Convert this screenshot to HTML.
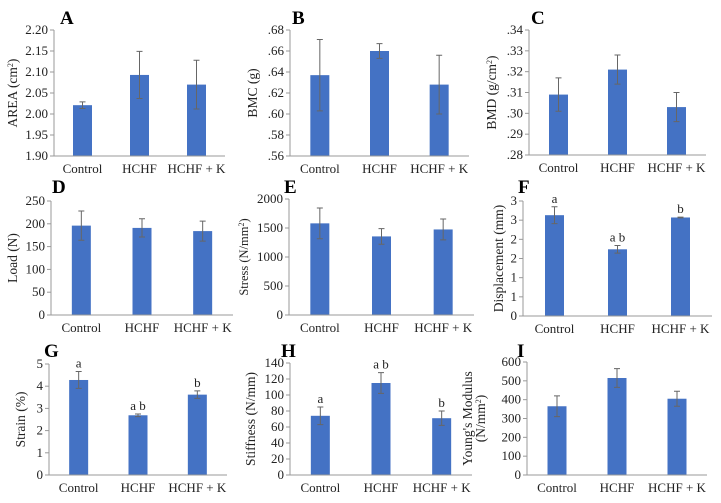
<!DOCTYPE html>
<html><head><meta charset="utf-8"><style>
body{margin:0;background:#fff}
svg{display:block}
svg text{font-family:"Liberation Serif","DejaVu Serif",serif}
</style></head><body>
<svg id="c" width="721" height="503" xmlns="http://www.w3.org/2000/svg" font-family="Liberation Serif, serif"></svg>
<script>
const categories=["Control","HCHF","HCHF + K"];
const valsA=[2.021,2.093,2.070], errA=[0.008,0.056,0.058];
const valsB=[0.637,0.660,0.628], errB=[0.034,0.007,0.028];
const valsC=[0.309,0.321,0.303], errC=[0.008,0.007,0.007];
const valsD=[196,191,184], errD=[32,20,22];
const valsE=[1580,1355,1475], errE=[265,135,180];
const valsF=[2.63,1.74,2.57], errF=[0.22,0.1,0.01];
const valsG=[4.28,2.69,3.62], errG=[0.38,0.06,0.17];
const valsH=[74,115,71], errH=[11,13,9];
const valsI=[365,515,405], errI=[55,50,40];
const ticksA=["1.90","1.95","2.00","2.05","2.10","2.15","2.20"];
const ticksB=[".56",".58",".60",".62",".64",".66",".68"];
const ticksC=[".28",".29",".30",".31",".32",".33",".34"];
const ticksD=["0","50","100","150","200","250"];
const ticksE=["0","500","1000","1500","2000"];
const ticksF=["0","1","1","2","2","3","3"];
const ticksG=["0","1","2","3","4","5"];
const ticksH=["0","20","40","60","80","100","120","140"];
const ticksI=["0","100","200","300","400","500","600"];
const sigF=["a","a b","b"], sigG=["a","a b","b"], sigH=["a","a b","b"];
const NS="http://www.w3.org/2000/svg";
const svg=document.getElementById('c');
const FF='Liberation Serif, DejaVu Serif, serif';
function mk(t,a,p){const e=document.createElementNS(NS,t);for(const k in a)e.setAttribute(k,a[k]);if(t==='text')e.setAttribute('font-family',FF);(p||svg).appendChild(e);return e;}
const panels=[
{id:'a',letter:'A',L:54,R:225,T:30,B:156,min:1.90,max:2.20,ticks:ticksA,vals:valsA,err:errA,title:['AREA (cm','2',')'],tx:17,lx:60,ly:24},
{id:'b',letter:'B',L:290,R:469,T:30,B:156,min:0.56,max:0.68,ticks:ticksB,vals:valsB,err:errB,title:['BMC (g)'],tx:257,lx:292,ly:24},
{id:'c',letter:'C',L:529,R:706,T:30,B:155,min:0.28,max:0.34,ticks:ticksC,vals:valsC,err:errC,title:['BMD (g/cm','2',')'],tx:496,lx:531,ly:24},
{id:'d',letter:'D',L:51,R:233,T:201,B:315,min:0,max:250,ticks:ticksD,vals:valsD,err:errD,title:['Load (N)'],tx:17,lx:52,ly:193},
{id:'e',letter:'E',L:289,R:474,T:199,B:315,min:0,max:2000,ticks:ticksE,vals:valsE,err:errE,title:['Stress (N/mm','2',')'],tx:248,lx:284,ly:193,small:true},
{id:'f',letter:'F',L:523,R:712,T:201,B:316,min:0,max:3,ticks:ticksF,vals:valsF,err:errF,title:['Displacement (mm)'],tx:503,lx:518,ly:193,sig:sigF},
{id:'g',letter:'G',L:49,R:227,T:364,B:475,min:0,max:5,ticks:ticksG,vals:valsG,err:errG,title:['Strain (%)'],tx:25,lx:44,ly:357,sig:sigG},
{id:'h',letter:'H',L:290,R:472,T:363,B:475,min:0,max:140,ticks:ticksH,vals:valsH,err:errH,title:['Stiffness (N/mm)'],tx:255,lx:281,ly:357,sig:sigH},
{id:'i',letter:'I',L:527,R:707,T:362,B:475,min:0,max:600,ticks:ticksI,vals:valsI,err:errI,title:["Young's Modulus"],title2:['(N/mm','2',')'],tx:472,lx:517,ly:357}
];
panels.forEach(p=>{
 const g=mk('g',{});
 
 
 const y=v=>p.B-(v-p.min)/(p.max-p.min)*(p.B-p.T);
 const step=(p.R-p.L)/3;
 const x=i=>p.L+step*(i+0.5);
 const lt=mk('text',{x:p.lx,y:p.ly,'font-size':19,'font-weight':'bold'},g);lt.textContent=p.letter;
 
 
 const n=p.ticks.length;
 p.ticks.forEach((t,k)=>{
  const v=p.min+(p.max-p.min)*k/(n-1);
  const yy=y(v);
  mk('line',{x1:p.L-4,x2:p.L,y1:yy,y2:yy,stroke:'#999','stroke-width':1},g);
  const tt=mk('text',{x:p.L-6,y:yy+4,'font-size':13,'text-anchor':'end',fill:'#222'},g);tt.textContent=t;
  
  
 });
 p.vals.forEach((v,i)=>{
  const cx=x(i),bw=19;
  const r=mk('rect',{x:cx-bw/2,y:y(v),width:bw,height:p.B-y(v),fill:'#4472C4'},g);
  
  
  const e=p.err[i];
  const eb=mk('path',{d:`M${cx},${y(v+e)}V${y(v-e)}M${cx-3},${y(v+e)}H${cx+3}M${cx-3},${y(v-e)}H${cx+3}`,stroke:'#666','stroke-width':1,fill:'none'},g);
  
  
  const cl=mk('text',{x:cx,y:p.B+17,'font-size':13,'text-anchor':'middle',fill:'#222'},g);cl.textContent=categories[i];
  
  
  if(p.sig){
   const s=mk('text',{x:cx,y:y(v+e)-4,'font-size':13,'text-anchor':'middle',fill:'#222'},g);s.textContent=p.sig[i];
   
   
  }
 });
 mk('line',{x1:p.L,x2:p.L,y1:p.T,y2:p.B,stroke:'#999','stroke-width':1},g);
 mk('line',{x1:p.L,x2:p.R,y1:p.B,y2:p.B,stroke:'#999','stroke-width':1},g);
 const mid=(p.T+p.B)/2;
 const addTitle=(parts,tx)=>{
  const t=mk('text',{transform:`translate(${tx},${mid}) rotate(-90)`,'font-size':p.small?12.5:13.5,'text-anchor':'middle',fill:'#222'},g);
  
  
  parts.forEach((s,k)=>{const ts=mk('tspan',{},t);ts.textContent=s;if(k===1){ts.setAttribute('baseline-shift','super');ts.setAttribute('font-size','8');}});
 };
 if(p.title2){addTitle(p.title,p.tx);addTitle(p.title2,p.tx+13);}else addTitle(p.title,p.tx);
});
</script>
</body></html>
